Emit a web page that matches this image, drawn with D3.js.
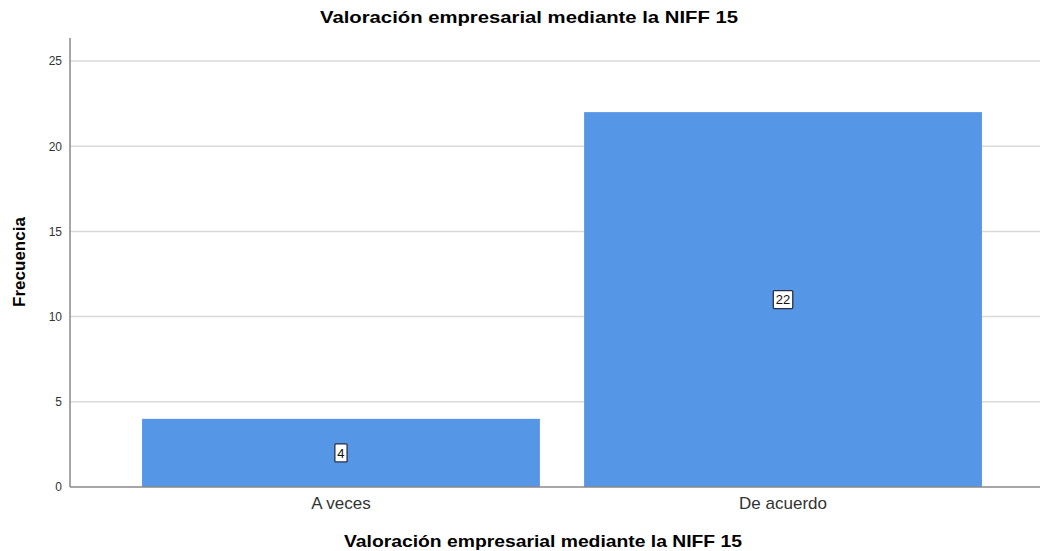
<!DOCTYPE html>
<html>
  <head>
    <meta charset="utf-8">
    <title>Valoración empresarial mediante la NIFF 15</title>
    <script src="https://d3js.org/d3.v7.min.js"></script>
    <style>
      body { margin: 0; background: #fff; }
      svg { display: block; font-family: Arial, "Liberation Sans", sans-serif; }
    </style>
  </head>
  <body>
    <div id="chart"></div>
    <script>
      // data
      var categories = ["A veces", "De acuerdo"];
      var counts = [4, 22];
      var yTicks = [0, 5, 10, 15, 20, 25];
      var chartTitle = "Valoración empresarial mediante la NIFF 15";
      var xTitle = "Valoración empresarial mediante la NIFF 15";
      var yTitle = "Frecuencia";

      var width = 1040, height = 551;
      var margin = { top: 38, right: 0, bottom: 64, left: 70 };
      var font = "Arial, 'Liberation Sans', sans-serif";

      var svg = d3.select("#chart").append("svg")
        .attr("width", width)
        .attr("height", height);

      // scales
      var x = d3.scaleBand()
        .domain(categories)
        .range([margin.left, 1054])
        .paddingInner(0.1)
        .paddingOuter(0.163);
      var y = d3.scaleLinear()
        .domain([0, 25])
        .range([487, 61]);

      // gridlines
      svg.append("g")
        .selectAll("line")
          .data(yTicks.filter(function(d) { return d > 0; }))
        .enter().append("line")
          .attr("x1", margin.left)
          .attr("x2", width)
          .attr("y1", function(d) { return y(d); })
          .attr("y2", function(d) { return y(d); })
          .attr("stroke", "#d9d9d9")
          .attr("stroke-width", 1.5);

      // bars
      svg.append("g")
        .selectAll("rect")
          .data(counts)
        .enter().append("rect")
          .attr("x", function(d, i) { return x(categories[i]); })
          .attr("y", function(d) { return y(d); })
          .attr("width", x.bandwidth())
          .attr("height", function(d) { return y(0) - y(d); })
          .attr("fill", "#5596e6");

      // value labels
      var labels = svg.append("g")
        .selectAll("g")
          .data(counts)
        .enter().append("g")
          .attr("transform", function(d, i) {
            return "translate(" + (x(categories[i]) + x.bandwidth() / 2) + "," + y(d / 2) + ")";
          });
      labels.append("text")
        .attr("text-anchor", "middle")
        .attr("dy", "0.36em")
        .attr("font-size", 13)
        .attr("fill", "#111")
        .text(function(d) { return d; })
        .each(function() {
          var b = this.getBBox();
          d3.select(this.parentNode).insert("rect", "text")
            .attr("x", b.x - 2.5)
            .attr("y", -9)
            .attr("width", b.width + 5)
            .attr("height", 18)
            .attr("rx", 1)
            .attr("fill", "#fff")
            .attr("stroke", "#2a2f45")
            .attr("stroke-width", 1.3);
        });

      // y axis
      var yAxis = svg.append("g")
        .attr("transform", "translate(" + margin.left + ",0)")
        .call(d3.axisLeft(y).tickValues(yTicks).tickSize(0).tickPadding(8));
      yAxis.select(".domain").remove();
      yAxis.selectAll("text")
        .attr("font-size", 12)
        .attr("fill", "#333")
        .attr("font-family", font);
      svg.append("line")
        .attr("x1", margin.left).attr("x2", margin.left)
        .attr("y1", margin.top).attr("y2", y(0))
        .attr("stroke", "#888").attr("stroke-width", 1.5);

      // x axis
      var xAxis = svg.append("g")
        .attr("transform", "translate(0," + y(0) + ")")
        .call(d3.axisBottom(x).tickSize(0).tickPadding(10));
      xAxis.select(".domain").remove();
      xAxis.selectAll("text")
        .attr("font-size", 17)
        .attr("fill", "#333")
        .attr("font-family", font);
      svg.append("line")
        .attr("x1", margin.left).attr("x2", width)
        .attr("y1", y(0)).attr("y2", y(0))
        .attr("stroke", "#888").attr("stroke-width", 1.5);

      // titles
      svg.append("text")
        .attr("x", 529).attr("y", 23)
        .attr("text-anchor", "middle")
        .attr("font-size", 17).attr("font-weight", "bold")
        .attr("lengthAdjust", "spacingAndGlyphs").attr("textLength", 418)
        .text(chartTitle);
      svg.append("text")
        .attr("x", 543).attr("y", 547)
        .attr("text-anchor", "middle")
        .attr("font-size", 17).attr("font-weight", "bold")
        .attr("lengthAdjust", "spacingAndGlyphs").attr("textLength", 398)
        .text(xTitle);
      svg.append("text")
        .attr("transform", "translate(25,262) rotate(-90)")
        .attr("text-anchor", "middle")
        .attr("font-size", 17).attr("font-weight", "bold")
        .text(yTitle);
    </script>
  </body>
</html>
